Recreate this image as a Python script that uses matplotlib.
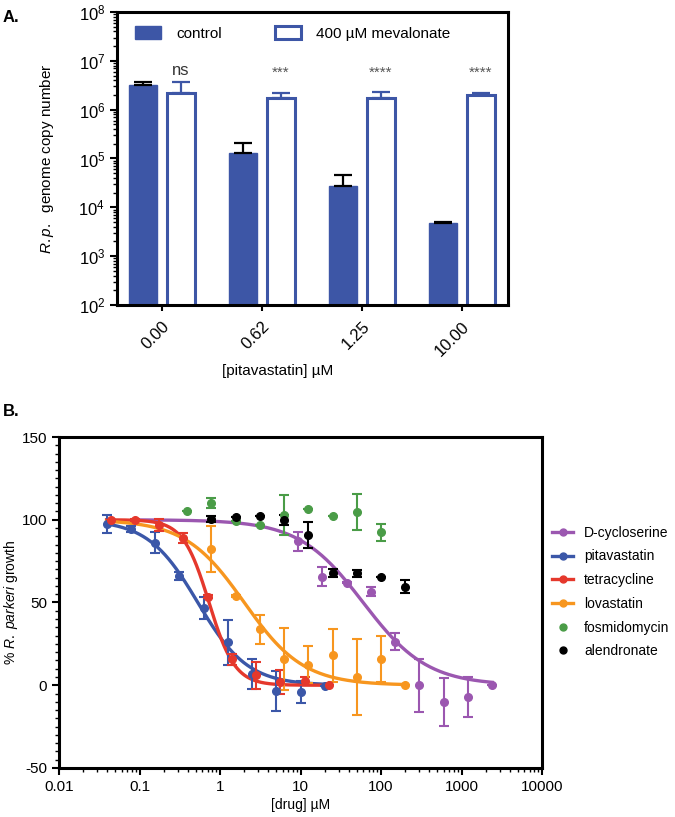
#import libraries
import numpy as np
import matplotlib
matplotlib.use('Agg')
import matplotlib.pyplot as plt
from matplotlib.patches import Patch
from matplotlib.lines import Line2D
from matplotlib.ticker import MultipleLocator, FixedLocator, FuncFormatter

plt.rcParams['font.family'] = ['Liberation Sans', 'DejaVu Sans']
plt.rcParams['mathtext.fontset'] = 'custom'
plt.rcParams['mathtext.rm'] = 'Liberation Sans'
plt.rcParams['mathtext.it'] = 'Liberation Sans:italic'
plt.rcParams['axes.unicode_minus'] = False

#Data panel A
pita_labels = ['0.00', '0.62', '1.25', '10.00']
control_vals = [3.2e6, 1.27e5, 2.76e4, 4.7e3]
control_err = [0.5e6, 0.77e5, 1.84e4, 0.3e3]
meval_vals = [2.16e6, 1.75e6, 1.77e6, 2.03e6]
meval_err = [1.54e6, 0.45e6, 0.53e6, 0.17e6]
signif = ['ns', '***', '****', '****']

#Data panel B
drugs = ['D-cycloserine', 'pitavastatin', 'tetracycline', 'lovastatin', 'fosmidomycin', 'alendronate']
colors = ['#9b57b0', '#3b57a8', '#e5382c', '#f7961f', '#4a9c47', '#000000']

cyclo_conc = [9.375, 18.75, 37.5, 75, 150, 300, 600, 1200, 2400]
cyclo_vals = [86.9, 65.6, 62, 56.6, 26.3, 0, -10, -7, 0]
cyclo_err = [6, 5.7, 0.5, 2.5, 5, 16, 14.5, 12, 0]

pita_conc = [0.039, 0.078, 0.156, 0.3125, 0.625, 1.25, 2.5, 5, 10, 20]
pita_vals = [97.6, 94.4, 86.2, 66, 46.5, 25.9, 6.7, -3.4, -4.2, -0.2]
pita_err = [5.5, 2, 6.5, 2.5, 6.6, 13.8, 9, 12, 6.5, 0]

tetra_conc = [0.044, 0.088, 0.176, 0.352, 0.703, 1.406, 2.81, 5.625, 11.25, 22.5]
tetra_vals = [100, 100, 97, 89, 53.5, 15.6, 6, 2, 2.6, 0]
tetra_err = [0, 0.5, 3.5, 3, 1, 3.5, 8, 7.5, 2.5, 0]

lova_conc = [0.78, 1.56, 3.125, 6.25, 12.5, 25, 50, 100, 200]
lova_vals = [82.2, 54, 33.7, 15.8, 12.5, 18.2, 5, 16, 0]
lova_err = [14, 0.5, 8.8, 18.6, 11.3, 16, 22.7, 14, 0]

fosmi_conc = [0.39, 0.78, 1.56, 3.125, 6.25, 12.5, 25, 50, 100]
fosmi_vals = [105.5, 110, 99.4, 96.6, 103, 106.7, 102, 104.6, 92.3]
fosmi_err = [0, 3, 0, 0, 12, 0, 0, 11, 5.3]

alen_conc = [0.78, 1.56, 3.125, 6.25, 12.5, 25, 50, 100, 200]
alen_vals = [100.4, 101.6, 102.4, 99.6, 90.9, 67.7, 67.7, 65.6, 59.6]
alen_err = [2, 0, 0, 3, 8, 2.5, 2, 0, 4]

#fitted dose-response curves: top, bottom, IC50, hill slope, fit range
fit_params = {
    'D-cycloserine': (100, 0, 60, 1.09, 0.09, 2400),
    'pitavastatin': (100, 0, 0.53, 1.4, 0.039, 20),
    'tetracycline': (100, 0, 0.73, 2.7, 0.039, 22.5),
    'lovastatin': (100, 0, 2.0, 1.18, 0.039, 200),
}

#Create Figure
fig = plt.figure(figsize=(6.75, 8.17), dpi=100)
blue = '#3d56a6'

#Panel A
axA = fig.add_axes([0.1733, 0.6267, 0.5793, 0.3586])
x = np.arange(len(pita_labels))
off = 0.19
w = 0.28
axA.bar(x - off, control_vals, w, bottom=0, color=blue, edgecolor=blue, linewidth=1, zorder=2)
axA.bar(x + off, meval_vals, w, bottom=0, color='white', edgecolor=blue, linewidth=2.2, zorder=2)
axA.errorbar(x - off, control_vals, yerr=[np.zeros(4), control_err], fmt='none',
             ecolor='black', elinewidth=1.6, capsize=6.5, capthick=1.6, zorder=3)
axA.errorbar(x + off, meval_vals, yerr=[np.zeros(4), meval_err], fmt='none',
             ecolor=blue, elinewidth=1.6, capsize=6.5, capthick=1.6, zorder=3)
for i, s in enumerate(signif):
    if s == 'ns':
        axA.text(x[i] + off, 4.4e6, s, ha='center', va='bottom', fontsize=12, color='#333333')
    else:
        axA.text(x[i] + off, 4.0e6, s, ha='center', va='bottom', fontsize=11, color='#555555')

axA.set_yscale('log')
axA.set_ylim(1e2, 1e8)
axA.set_xlim(-0.45, 3.46)
axA.set_xticks(x)
axA.set_xticklabels(pita_labels, rotation=45, ha='right', va='top', rotation_mode='anchor', fontsize=12)
axA.tick_params(axis='y', which='major', labelsize=12, length=5, width=1.5)
axA.tick_params(axis='y', which='minor', length=3, width=1)
axA.tick_params(axis='x', length=4, width=1.5, pad=6)
for sp in axA.spines.values():
    sp.set_linewidth(2.2)
axA.set_ylabel(r'$\it{R.p.}$  genome copy number', fontsize=11, labelpad=16)
axA.set_xlabel('[pitavastatin] µM', fontsize=11)
axA.xaxis.set_label_coords((278 - 117) / 391, -0.2)

legA = axA.legend(handles=[Patch(facecolor=blue, edgecolor=blue, linewidth=1),
                           Patch(facecolor='white', edgecolor=blue, linewidth=2.2)],
                  labels=['control', '400 µM mevalonate'], ncol=2, frameon=False,
                  loc='upper left', bbox_to_anchor=(0.01, 1.0), fontsize=11,
                  handlelength=1.7, handleheight=0.95, columnspacing=3.5, handletextpad=1.0)
fig.text(0.004, 0.978, 'A.', fontsize=12, fontweight='bold', va='center')

#Panel B
axB = fig.add_axes([0.0874, 0.06, 0.7156, 0.4051])
series = [(cyclo_conc, cyclo_vals, cyclo_err), (pita_conc, pita_vals, pita_err),
          (tetra_conc, tetra_vals, tetra_err), (lova_conc, lova_vals, lova_err),
          (fosmi_conc, fosmi_vals, fosmi_err), (alen_conc, alen_vals, alen_err)]
handles = []
for name, col, (c, v, e) in zip(drugs, colors, series):
    if name in fit_params:
        top, bot, ic50, hill, x0, x1 = fit_params[name]
        xs = np.logspace(np.log10(x0), np.log10(x1), 300)
        ys = bot + (top - bot) / (1 + (xs / ic50) ** hill)
        axB.plot(xs, ys, color=col, linewidth=2.4, zorder=2)
        handles.append(Line2D([], [], color=col, linewidth=2.4, marker='o', markersize=5))
    else:
        handles.append(Line2D([], [], color=col, linestyle='none', marker='o', markersize=5))
    axB.errorbar(c, v, yerr=e, fmt='o', color=col, markersize=5.5, elinewidth=1.5,
                 capsize=3.5, capthick=1.5, zorder=3)

axB.set_xscale('log')
axB.set_xlim(0.01, 10000)
axB.set_ylim(-50, 150)
axB.yaxis.set_major_locator(MultipleLocator(50))
axB.yaxis.set_minor_locator(MultipleLocator(5))
axB.xaxis.set_major_locator(FixedLocator([0.01, 0.1, 1, 10, 100, 1000, 10000]))
axB.xaxis.set_major_formatter(FuncFormatter(lambda v, p: ('%g' % v)))
axB.tick_params(axis='both', which='major', labelsize=11, length=5, width=1.5)
axB.tick_params(axis='both', which='minor', length=3, width=1)
for sp in axB.spines.values():
    sp.set_linewidth(2.2)
axB.set_ylabel(r'% $\it{R.\ parkeri}$ growth', fontsize=10, labelpad=1)
axB.set_xlabel('[drug] µM', fontsize=10, labelpad=3)
axB.legend(handles=handles, labels=drugs, frameon=False, loc='center left',
           bbox_to_anchor=(0.818, 0.2754), bbox_transform=fig.transFigure,
           borderpad=0, borderaxespad=0,
           fontsize=10, handlelength=1.5, handletextpad=0.8, labelspacing=0.7)
fig.text(0.004, 0.496, 'B.', fontsize=12, fontweight='bold', va='center')

#Save Plot
plt.savefig('out.png', dpi=100)
